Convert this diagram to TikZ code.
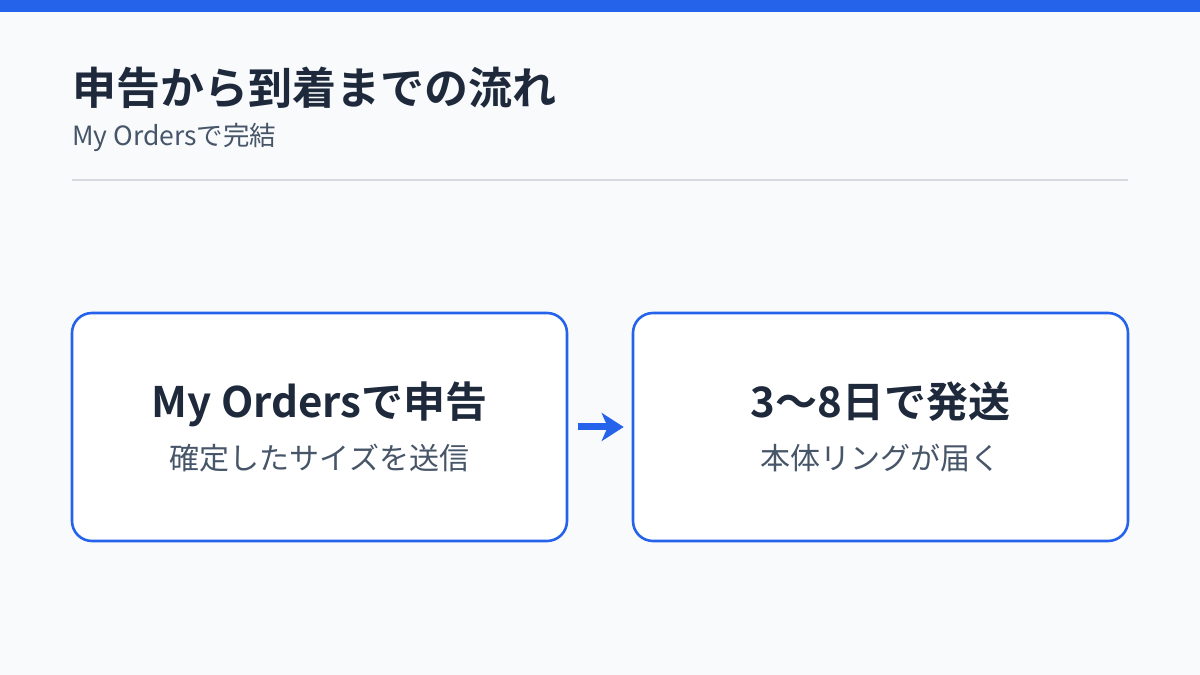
\documentclass[tikz,border=0pt]{standalone}
\usepackage{fontspec}
\setmainfont{Noto Sans CJK JP}[BoldFont={Noto Sans CJK JP Bold}]
\usetikzlibrary{arrows.meta}
\definecolor{bg}{HTML}{F8FAFC}
\definecolor{accent}{HTML}{2563EB}
\definecolor{ink}{HTML}{1E293B}
\definecolor{subink}{HTML}{475569}
\definecolor{rule}{HTML}{D6DAE0}
\tikzset{
  card/.style={draw=accent, line width=2.6pt, fill=white, rounded corners=20pt,
    minimum width=495pt, minimum height=228pt, inner sep=0pt},
  cardtitle/.style={anchor=base, text=ink, font=\fontsize{42}{50}\selectfont\bfseries, inner sep=0pt},
  cardsub/.style={anchor=base, text=subink, font=\fontsize{30}{36}\selectfont, inner sep=0pt},
  flow/.style={draw=accent, line width=7pt, -{Stealth[length=22pt,width=28pt,inset=6pt]}, shorten <=10pt, shorten >=8pt},
}
\begin{document}
\begin{tikzpicture}[x=1pt,y=1pt]
\useasboundingbox (0,0) rectangle (1200,675);
\fill[bg] (0,0) rectangle (1200,675);
\fill[accent] (0,663) rectangle (1200,675);
\node[anchor=base west, inner sep=0pt, text=ink, font=\fontsize{44}{52}\selectfont\bfseries] (title) at (72,570) {申告から到着までの流れ};
\node[anchor=base west, inner sep=0pt, text=subink, font=\fontsize{26.5}{32}\selectfont] (subtitle) at (72,529) {My Ordersで完結};
\coordinate (ruleL) at (72,495);
\coordinate (ruleR) at (1128,495);
\draw[rule, line width=1.5pt] (ruleL) -- (ruleR);
\node[card] (b1) at (319.5,248) {};
\node[card] (b2) at (880.5,248) {};
\node[cardtitle] (t1) at (319.5,257) {My Ordersで申告};
\node[cardsub] (s1) at (319.5,205) {確定したサイズを送信};
\node[cardtitle] (t2) at (880.5,257) {3〜8日で発送};
\node[cardsub] (s2) at (880.5,205) {本体リングが届く};
\draw[flow] (b1.east) -- (b2.west);
\end{tikzpicture}
\end{document}
